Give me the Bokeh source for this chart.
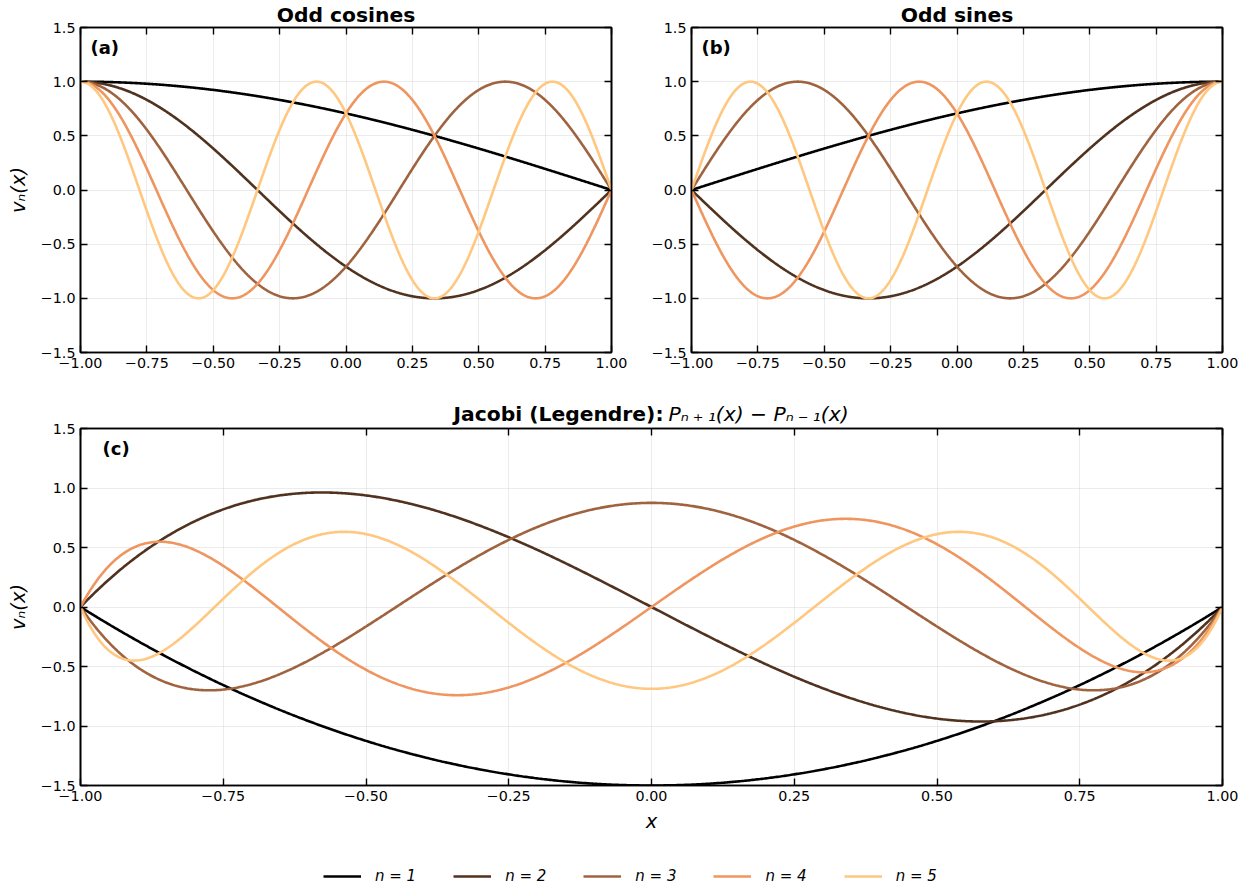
import numpy as np
from numpy.polynomial import legendre as npleg
from bokeh.plotting import figure
from bokeh.models import Range1d, FixedTicker, LinearAxis, Label, Legend, LegendItem
from bokeh.layouts import column, row
from bokeh.embed import file_html
from bokeh.resources import INLINE

# ---------------- data ----------------
N_VALUES = [1, 2, 3, 4, 5]
SERIES_LABELS = ["n = 1", "n = 2", "n = 3", "n = 4", "n = 5"]
COLORS = ["#000000", "#50321f", "#9f643f", "#ef955f", "#ffc77f"]
X_TICKS = [-1.0, -0.75, -0.5, -0.25, 0.0, 0.25, 0.5, 0.75, 1.0]
X_TICK_LABELS = ["\u22121.00", "\u22120.75", "\u22120.50", "\u22120.25", "0.00",
                 "0.25", "0.50", "0.75", "1.00"]
Y_TICKS = [-1.5, -1.0, -0.5, 0.0, 0.5, 1.0, 1.5]
Y_TICK_LABELS = ["\u22121.5", "\u22121.0", "\u22120.5", "0.0", "0.5", "1.0", "1.5"]
PANEL_TITLES = ["Odd cosines", "Odd sines"]
JACOBI_TITLE_BOLD = "Jacobi (Legendre):"
JACOBI_TITLE_MATH = "P\u2099\u2009\u208a\u2009\u2081(x) \u2212 P\u2099\u2009\u208b\u2009\u2081(x)"
PANEL_TAGS = ["(a)", "(b)", "(c)"]
Y_LABEL = "v\u2099(x)"
X_LABEL = "x"
X_SAMPLES = np.linspace(-1.0, 1.0, 801)


def odd_cosine(n, x):
    return np.cos((2 * n - 1) * np.pi * (x + 1) / 4)


def odd_sine(n, x):
    return np.cos((2 * n - 1) * np.pi * (1 - x) / 4)


def jacobi_diff(n, x):
    return npleg.Legendre.basis(n + 1)(x) - npleg.Legendre.basis(n - 1)(x)


FONT = "DejaVu Sans"
TITLE_SIZE = "20.3px"

# layout geometry (pixels)
TOTAL_W = 1242
LEFT_B = 80
RIGHT_B = 20
LEFT_B2 = 60
FW_TOP = 531
FH_TOP = 325
FW_BOT = 1142
FH_BOT = 357
TOP_B = 10          # room above each frame for the top tick label
OVERLAP = 8         # panels slide under the title strips (transparent border)
TOP_STRIP_H = 25
MID_STRIP_H = 44
LEG_STRIP_H = 53


def style_axis(ax, ticks, labels, show_labels):
    ax.ticker = FixedTicker(ticks=ticks)
    ax.major_tick_in = 7
    ax.major_tick_out = 0
    ax.minor_tick_in = 0
    ax.minor_tick_out = 0
    ax.major_tick_line_width = 1.4
    ax.major_tick_line_color = "black"
    ax.axis_line_width = 1.6
    ax.axis_line_color = "black"
    ax.major_label_text_font = FONT
    ax.major_label_text_color = "black"
    if show_labels:
        ax.major_label_overrides = dict(zip(ticks, labels))
        ax.major_label_text_font_size = "14.3px"
        ax.major_label_standoff = 5
    else:
        ax.major_label_text_font_size = "0px"
        ax.major_label_text_color = None
        ax.major_label_standoff = 0
    ax.axis_label_text_font = FONT
    ax.axis_label_text_font_size = "19.5px"
    ax.axis_label_text_font_style = "italic"
    ax.axis_label_text_color = "black"


def make_panel(width, height, left, right, top, bottom, ylabel=None, xlabel=None):
    p = figure(width=width, height=height,
               x_range=Range1d(-1.0, 1.0), y_range=Range1d(-1.5, 1.5),
               output_backend="svg", toolbar_location=None,
               min_border_left=left, min_border_right=right,
               min_border_top=top, min_border_bottom=bottom)
    p.outline_line_color = "black"
    p.outline_line_width = 1.6
    p.outline_line_alpha = 1.0
    p.background_fill_color = "white"
    p.border_fill_color = None
    p.add_layout(LinearAxis(), "above")
    p.add_layout(LinearAxis(), "right")
    for ax in p.below:
        style_axis(ax, X_TICKS, X_TICK_LABELS, True)
    for ax in p.above:
        style_axis(ax, X_TICKS, X_TICK_LABELS, False)
    for ax in p.left:
        style_axis(ax, Y_TICKS, Y_TICK_LABELS, True)
    for ax in p.right:
        style_axis(ax, Y_TICKS, Y_TICK_LABELS, False)
    if ylabel:
        p.left[0].axis_label = ylabel
        p.left[0].axis_label_standoff = 8
    if xlabel:
        p.below[0].axis_label = xlabel
        p.below[0].axis_label_standoff = 6
    p.xgrid.ticker = FixedTicker(ticks=X_TICKS)
    p.ygrid.ticker = FixedTicker(ticks=Y_TICKS)
    p.xgrid.grid_line_color = "#b0b0b0"
    p.ygrid.grid_line_color = "#b0b0b0"
    p.xgrid.grid_line_alpha = 0.3
    p.ygrid.grid_line_alpha = 0.3
    p.xgrid.grid_line_width = 0.8
    p.ygrid.grid_line_width = 0.8
    return p


def make_strip(height):
    s = figure(width=TOTAL_W, height=height,
               x_range=Range1d(0, FW_BOT), y_range=Range1d(0, height),
               x_axis_type=None, y_axis_type=None,
               output_backend="svg", toolbar_location=None,
               min_border_left=LEFT_B, min_border_right=RIGHT_B,
               min_border_top=0, min_border_bottom=0)
    s.outline_line_color = None
    s.background_fill_color = "white"
    s.border_fill_color = "white"
    return s


def strip_text(s, x, y_top_from_bottom, text, align="center", style="bold"):
    # x in pixels from the strip frame's left edge (aligned with panel (c) frame)
    s.add_layout(Label(x=x, y=y_top_from_bottom, x_units="screen", y_units="screen",
                       text=text, text_align=align, text_baseline="top",
                       text_font=FONT, text_font_size=TITLE_SIZE, text_font_style=style,
                       text_color="black"))


def add_tag(p, text, frame_h, dx):
    p.add_layout(Label(x=dx, y=frame_h - 9, x_units="screen", y_units="screen",
                       text=text, text_align="left", text_baseline="top",
                       text_font=FONT, text_font_size="18px", text_font_style="bold",
                       text_color="black"))


# ---- top strip: panel titles ----
top_strip = make_strip(TOP_STRIP_H)
strip_text(top_strip, FW_TOP / 2, TOP_STRIP_H - 2, PANEL_TITLES[0])
p2_offset = FW_TOP + RIGHT_B + LEFT_B2
strip_text(top_strip, p2_offset + FW_TOP / 2, TOP_STRIP_H - 2, PANEL_TITLES[1])

# ---- top row ----
p1 = make_panel(LEFT_B + FW_TOP + RIGHT_B, TOP_B + FH_TOP + 30, LEFT_B, RIGHT_B, TOP_B, 30,
                ylabel=Y_LABEL)
p2 = make_panel(LEFT_B2 + FW_TOP + RIGHT_B, TOP_B + FH_TOP + 30, LEFT_B2, RIGHT_B, TOP_B, 30)
top_row = row(p1, p2)
top_row.margin = (-OVERLAP, 0, 0, 0)

# ---- middle strip: jacobi title ----
mid_strip = make_strip(MID_STRIP_H)
strip_text(mid_strip, FW_BOT / 2 + 12, 25, JACOBI_TITLE_BOLD, align="right", style="bold")
strip_text(mid_strip, FW_BOT / 2 + 17, 25, JACOBI_TITLE_MATH, align="left", style="italic")

# ---- bottom panel ----
p3 = make_panel(TOTAL_W, TOP_B + FH_BOT + 50, LEFT_B, RIGHT_B, TOP_B, 50,
                ylabel=Y_LABEL, xlabel=X_LABEL)
p3.margin = (-OVERLAP, 0, 0, 0)

for n, c in zip(N_VALUES, COLORS):
    p1.line(X_SAMPLES, odd_cosine(n, X_SAMPLES), line_color=c, line_width=2.6)
    p2.line(X_SAMPLES, odd_sine(n, X_SAMPLES), line_color=c, line_width=2.6)
    p3.line(X_SAMPLES, jacobi_diff(n, X_SAMPLES), line_color=c, line_width=2.6)

add_tag(p1, PANEL_TAGS[0], FH_TOP, 10)
add_tag(p2, PANEL_TAGS[1], FH_TOP, 10)
add_tag(p3, PANEL_TAGS[2], FH_BOT, 22)

# ---- legend strip (legend-only proxies carry no visible points) ----
leg_strip = make_strip(LEG_STRIP_H)
leg_renderers = [leg_strip.line(x=[np.nan], y=[np.nan], line_color=c, line_width=2.6)
                 for c in COLORS]
legend = Legend(items=[LegendItem(label=lab, renderers=[r])
                       for lab, r in zip(SERIES_LABELS, leg_renderers)],
                orientation="horizontal", location=(243, 3),
                glyph_width=38, glyph_height=16, label_height=16,
                label_standoff=14, spacing=37, padding=0, margin=0,
                border_line_color=None, background_fill_alpha=0.0,
                label_text_font=FONT, label_text_font_size="15px",
                label_text_font_style="italic", label_text_color="black")
leg_strip.add_layout(legend, "center")

layout = column(top_strip, top_row, mid_strip, p3, leg_strip)
open("out.html", "w").write(file_html(layout, INLINE))
